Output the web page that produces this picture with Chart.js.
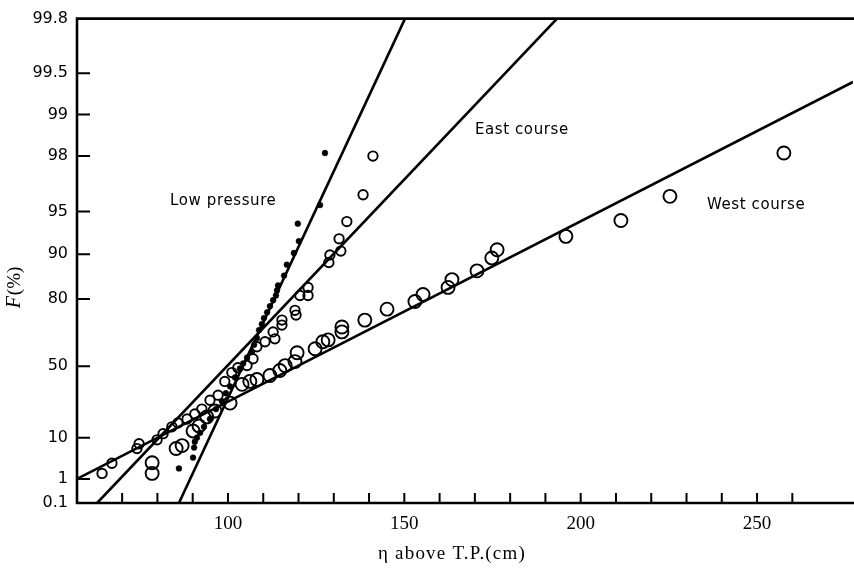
<!DOCTYPE html>
<html><head><meta charset="utf-8">
<script src="https://cdn.jsdelivr.net/npm/chart.js@4/dist/chart.umd.min.js"></script>
<style>html,body{margin:0;padding:0;background:#fff;}</style>
</head><body>
<canvas id="c" width="854" height="573" style="display:block;width:854px;height:573px"></canvas>
<script>
// ---- tick labels ----
const fTicks = [0.1, 1, 10, 50, 80, 90, 95, 98, 99, 99.5, 99.8];
const fTickLabels = ['0.1', '1', '10', '50', '80', '90', '95', '98', '99', '99.5', '99.8'];
const xMinor = [70, 80, 90, 100, 110, 120, 130, 140, 150, 160, 170, 180, 190, 200, 210, 220, 230, 240, 250, 260];
const xLabelled = [100, 150, 200, 250];

// ---- Low pressure (filled dots) ----
const lowEta = [86.1, 90.1, 90.4, 90.6, 91.2, 92.1, 93.2, 94.9, 96.6, 98.3, 99.4, 100.6, 102.0, 103.4, 104.3, 105.4, 106.8, 107.4, 108.2, 108.8, 109.6, 110.2, 111.1, 111.9, 112.8, 113.6, 113.9, 114.2, 115.9, 116.7, 118.7, 120.1, 119.8, 126.1, 127.5];
const lowF   = [2.1, 4.0, 6.6, 8.5, 10.0, 12.0, 14.7, 18.6, 24.1, 28.7, 33.6, 37.8, 43.3, 48.7, 51.6, 54.9, 58.1, 61.7, 65.0, 68.6, 71.1, 73.5, 75.6, 77.7, 79.6, 81.0, 82.4, 83.7, 86.0, 88.2, 90.2, 91.9, 93.9, 95.5, 98.1];

// ---- East course (small open circles) ----
const eastEta = [64.3, 67.1, 74.2, 74.8, 79.9, 81.6, 84.1, 85.8, 88.4, 90.6, 92.6, 94.9, 97.2, 99.1, 101.1, 102.8, 105.4, 107.1, 108.2, 110.5, 113.3, 112.8, 115.3, 115.3, 119.3, 119.0, 120.4, 122.7, 122.7, 128.6, 128.9, 132.0, 131.5, 133.7, 138.3, 141.1];
const eastF   = [1.5, 2.9, 6.3, 7.8, 9.2, 11.6, 14.7, 16.6, 18.6, 21.3, 24.1, 29.3, 32.4, 40.9, 46.3, 49.2, 50.4, 54.3, 60.7, 63.2, 64.6, 67.8, 70.7, 72.7, 74.6, 76.3, 81.0, 81.0, 83.2, 88.6, 89.9, 90.5, 92.2, 94.1, 96.2, 98.0];

// ---- West course (large open circles) ----
const westEta = [78.5, 78.5, 85.3, 87.0, 90.1, 91.8, 94.0, 96.3, 100.6, 104.0, 106.2, 108.2, 111.9, 114.7, 116.2, 119.0, 119.6, 124.7, 126.9, 128.4, 132.3, 132.3, 138.8, 145.1, 153.0, 155.3, 162.4, 163.5, 170.6, 174.8, 176.3, 195.8, 211.4, 225.3, 257.6];
const westF   = [1.5, 3.0, 6.3, 7.2, 12.8, 15.1, 19.7, 23.0, 27.6, 39.1, 40.9, 42.1, 44.5, 47.5, 50.4, 52.7, 57.6, 59.7, 63.2, 64.1, 67.8, 69.9, 72.7, 76.7, 79.2, 81.3, 83.2, 85.1, 87.0, 89.4, 90.7, 92.5, 94.2, 96.1, 98.1];

// ---- fitted lines (end points) ----
const lowLineEta  = [86.1, 150.2];  const lowLineF  = [0.1, 99.8];
const eastLineEta = [62.9, 193.3];  const eastLineF = [0.1, 99.8];
const westLineEta = [57.2, 277.2];  const westLineF = [1.0, 99.42];

// ---- annotations ----
const notes = [
  {text: 'Low pressure', eta: 83.6, f: 95.8},
  {text: 'East course',  eta: 170.0, f: 98.7},
  {text: 'West course',  eta: 235.8, f: 95.5}
];

const X_MIN = 57.2, X_MAX = 277.2;
function gumbel(p) { return -Math.log(-Math.log(p / 100)); }
function pts(xs, fs) { return xs.map((x, i) => ({x: x, y: gumbel(fs[i])})); }

const framePlugin = {
  id: 'frame',
  afterDraw(chart) {
    const ctx = chart.ctx, a = chart.chartArea, xs = chart.scales.x, ys = chart.scales.y;
    ctx.save();
    ctx.strokeStyle = '#000';
    ctx.lineCap = 'square';
    ctx.lineWidth = 2.6;
    ctx.beginPath();
    ctx.moveTo(854, a.top); ctx.lineTo(a.left, a.top);
    ctx.lineTo(a.left, a.bottom); ctx.lineTo(854, a.bottom);
    ctx.stroke();
    // inward ticks
    ctx.lineWidth = 2;
    ctx.lineCap = 'butt';
    ctx.beginPath();
    fTicks.forEach(f => {
      if (f === 0.1 || f === 99.8) return;
      const y = ys.getPixelForValue(gumbel(f));
      ctx.moveTo(a.left, y); ctx.lineTo(a.left + 13, y);
    });
    xMinor.forEach(v => {
      const x = xs.getPixelForValue(v);
      ctx.moveTo(x, a.bottom); ctx.lineTo(x, a.bottom - 10);
    });
    ctx.stroke();
    // annotations
    ctx.fillStyle = '#000';
    ctx.font = '15px "DejaVu Sans"';
    if ('letterSpacing' in ctx) ctx.letterSpacing = '0.6px';
    ctx.textBaseline = 'middle';
    ctx.textAlign = 'left';
    notes.forEach(n => {
      ctx.fillText(n.text, xs.getPixelForValue(n.eta), ys.getPixelForValue(gumbel(n.f)));
    });
    // x title
    ctx.font = '19px "Liberation Serif"';
    ctx.letterSpacing = '1.2px';
    ctx.textAlign = 'center';
    ctx.fillText('\u03B7 above T.P.(cm)', 452, 554);
    ctx.letterSpacing = '0px';
    // y title
    ctx.translate(15, 288);
    ctx.rotate(-Math.PI / 2);
    ctx.textAlign = 'left';
    ctx.font = 'italic 20px "Liberation Serif"';
    const w1 = ctx.measureText('F').width;
    ctx.font = '19px "Liberation Serif"';
    const w2 = ctx.measureText('(%)').width;
    const start = -(w1 + w2) / 2;
    ctx.font = 'italic 20px "Liberation Serif"';
    ctx.fillText('F', start, 0);
    ctx.font = '19px "Liberation Serif"';
    ctx.fillText('(%)', start + w1 + 1, 0);
    ctx.restore();
  }
};

const lineDs = (label, xs, fs) => ({
  type: 'line', label: label, data: pts(xs, fs),
  borderColor: '#000', borderWidth: 2.6, pointRadius: 0, fill: false, showLine: true, order: 2
});

new Chart(document.getElementById('c'), {
  type: 'scatter',
  data: {
    datasets: [
      {label: 'Low pressure', data: pts(lowEta, lowF), pointRadius: 2.9, pointBackgroundColor: '#000', pointBorderColor: '#000', pointBorderWidth: 0.5, order: 1},
      {label: 'East course', data: pts(eastEta, eastF), pointRadius: 4.7, pointBackgroundColor: 'rgba(0,0,0,0)', pointBorderColor: '#000', pointBorderWidth: 1.9, order: 1},
      {label: 'West course', data: pts(westEta, westF), pointRadius: 6.5, pointBackgroundColor: 'rgba(0,0,0,0)', pointBorderColor: '#000', pointBorderWidth: 1.9, order: 1},
      lineDs('Low pressure fit', lowLineEta, lowLineF),
      lineDs('East course fit', eastLineEta, eastLineF),
      lineDs('West course fit', westLineEta, westLineF)
    ]
  },
  options: {
    responsive: false, animation: false, devicePixelRatio: 1,
    layout: {autoPadding: false, padding: {top: 13, right: 1, left: 0, bottom: 0}},
    plugins: {legend: {display: false}, tooltip: {enabled: false}},
    scales: {
      x: {
        type: 'linear', min: X_MIN, max: X_MAX,
        afterBuildTicks: s => { s.ticks = xMinor.map(v => ({value: v})); },
        afterFit: s => { s.height = 70; },
        grid: {display: false, drawTicks: false},
        border: {display: false},
        ticks: {autoSkip: false, maxRotation: 0, padding: 10, color: '#000',
          font: {family: 'Liberation Serif', size: 19},
          callback: v => xLabelled.includes(v) ? String(v) : ''}
      },
      y: {
        type: 'linear', min: gumbel(0.1), max: gumbel(99.8),
        afterBuildTicks: s => { s.ticks = fTicks.map(f => ({value: gumbel(f)})); },
        afterFit: s => { s.width = 77; },
        grid: {display: false, drawTicks: false},
        border: {display: false},
        ticks: {autoSkip: false, padding: 9, color: '#000',
          font: {family: 'DejaVu Sans', size: 16},
          callback: (v, i) => fTickLabels[i]}
      }
    }
  },
  plugins: [framePlugin]
});
</script>
</body></html>
